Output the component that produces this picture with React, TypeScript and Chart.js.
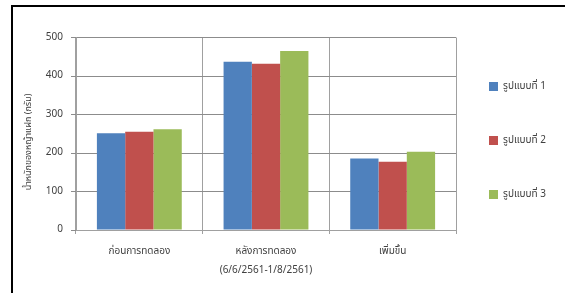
import React, { useEffect, useRef } from "react";
import { Chart, registerables } from "chart.js";

Chart.register(...registerables);

const categories: (string | string[])[] = [
  "ก่อนการทดลอง",
  ["หลังการทดลอง", "(6/6/2561-1/8/2561)"],
  "เพิ่มขึ้น",
];
const seriesNames = ["รูปแบบที่ 1", "รูปแบบที่ 2", "รูปแบบที่ 3"];
const series1 = [251, 437, 186];
const series2 = [255, 432, 177];
const series3 = [262, 465, 203];
const seriesColors = ["#4F81BD", "#C0504D", "#9BBB59"];
const yTitle = "น้ำหนักของหญ้าแฝก (กรัม)";
const yMin = 0;
const yMax = 500;
const yStep = 100;

const FONT = "'Noto Sans Thai', Tahoma, Loma, Garuda, 'Noto Sans', 'DejaVu Sans', sans-serif";

export default function App() {
  const ref = useRef<HTMLCanvasElement>(null);

  useEffect(() => {
    if (!ref.current) return;
    const values = [series1, series2, series3];
    const shiftLegend = {
      id: "shiftLegend",
      afterLayout(chart: any) {
        const lg = chart.legend;
        if (lg) {
          const target = 489 - lg.options.labels.padding;
          const d = target - lg.left;
          lg.left += d;
          lg.right += d;
        }
      },
    };
    const chart = new Chart(ref.current, {
      type: "bar",
      data: {
        labels: categories,
        datasets: seriesNames.map((name, i) => ({
          label: name,
          data: values[i],
          backgroundColor: seriesColors[i],
          borderWidth: 0,
          categoryPercentage: 0.67,
          barPercentage: 1,
        })),
      },
      options: {
        responsive: false,
        animation: false,
        layout: { padding: { top: 37.5, left: 12, right: 0, bottom: 0 } },
        plugins: {
          legend: {
            position: "right",
            align: "start",
            maxWidth: 109,
            labels: {
              boxWidth: 9,
              boxHeight: 9,
              padding: 44,
              color: "#404040",
              font: { family: FONT, size: 10 },
            },
          },
          tooltip: { enabled: false },
        },
        scales: {
          x: {
            grid: {
              display: true,
              offset: true,
              color: "#a0a0a0",
              tickLength: 4,
            },
            border: { color: "#a0a0a0" },
            ticks: {
              color: "#404040",
              padding: 8,
              maxRotation: 0,
              font: { family: FONT, size: 10, lineHeight: "19.5px" },
            },
            afterFit(scale: any) {
              scale.height = 63;
            },
          },
          y: {
            min: yMin,
            max: yMax,
            ticks: {
              stepSize: yStep,
              color: "#404040",
              padding: 8,
              font: { family: FONT, size: 10 },
            },
            grid: { color: "#8c8c8c", tickLength: 5 },
            border: { color: "#a0a0a0" },
            title: {
              display: true,
              text: yTitle + "       ",
              color: "#404040",
              padding: { top: 12, bottom: 0 },
              font: { family: FONT, size: 9 },
            },
            afterFit(scale: any) {
              scale.width = 64;
            },
          },
        },
      },
      plugins: [shiftLegend],
    } as any);
    return () => chart.destroy();
  }, []);

  return (
    <div style={{ position: "fixed", left: 0, top: 0, width: 565, height: 293, background: "#fff" }}>
      <canvas ref={ref} width={565} height={293} style={{ width: 565, height: 293, display: "block" }} />
      <div
        style={{
          position: "absolute",
          left: 11,
          top: 5,
          width: 560,
          height: 300,
          borderTop: "2px solid #000",
          borderLeft: "2px solid #000",
          pointerEvents: "none",
        }}
      />
    </div>
  );
}
